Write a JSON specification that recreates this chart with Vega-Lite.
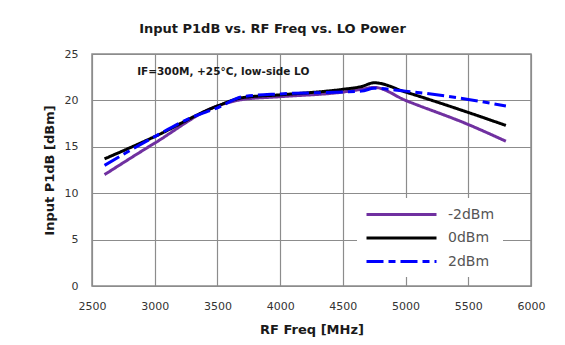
{
  "$schema": "https://vega.github.io/schema/vega-lite/v6.json",
  "width": 439,
  "height": 232,
  "autosize": {"type": "none"},
  "padding": {"left": 92, "top": 54, "right": 34, "bottom": 59},
  "background": "white",
  "title": {
    "text": "Input P1dB vs. RF Freq vs. LO Power",
    "font": "DejaVu Sans",
    "fontSize": 13,
    "fontWeight": "bold",
    "color": "#1a1a1a",
    "anchor": "middle",
    "dx": -39,
    "offset": 12
  },
  "config": {
    "view": {"stroke": "#8c8c8c", "strokeWidth": 1.5},
    "axis": {
      "grid": true,
      "gridColor": "#8c8c8c",
      "gridOpacity": 1,
      "gridWidth": 1.2,
      "domain": false,
      "ticks": false,
      "labelFlush": false,
      "labelFont": "DejaVu Sans",
      "labelFontSize": 11,
      "labelColor": "#333333",
      "titleFont": "DejaVu Sans",
      "titleFontSize": 13,
      "titleFontWeight": "bold",
      "titleColor": "#1a1a1a"
    },
    "legend": {
      "orient": "none",
      "legendX": 265,
      "legendY": 144,
      "title": null,
      "fillColor": "white",
      "padding": 8,
      "symbolType": "M-5,0H5",
      "symbolSize": 196,
      "symbolStrokeWidth": 3,
      "symbolOffset": 28,
      "labelFont": "DejaVu Sans",
      "labelFontSize": 14,
      "labelColor": "#555555",
      "labelOffset": 38,
      "rowPadding": 7.5
    }
  },
  "datasets": {
    "curves": [
      {"freq": 2600, "p1db": 12.0, "lo": "-2dBm"},
      {"freq": 3000, "p1db": 15.4, "lo": "-2dBm"},
      {"freq": 3500, "p1db": 19.4, "lo": "-2dBm"},
      {"freq": 3700, "p1db": 20.1, "lo": "-2dBm"},
      {"freq": 4000, "p1db": 20.4, "lo": "-2dBm"},
      {"freq": 4500, "p1db": 20.9, "lo": "-2dBm"},
      {"freq": 4650, "p1db": 21.2, "lo": "-2dBm"},
      {"freq": 4750, "p1db": 21.4, "lo": "-2dBm"},
      {"freq": 5000, "p1db": 20.0, "lo": "-2dBm"},
      {"freq": 5500, "p1db": 17.4, "lo": "-2dBm"},
      {"freq": 5800, "p1db": 15.6, "lo": "-2dBm"},
      {"freq": 2600, "p1db": 13.7, "lo": "0dBm"},
      {"freq": 3000, "p1db": 16.1, "lo": "0dBm"},
      {"freq": 3500, "p1db": 19.4, "lo": "0dBm"},
      {"freq": 3700, "p1db": 20.3, "lo": "0dBm"},
      {"freq": 4000, "p1db": 20.6, "lo": "0dBm"},
      {"freq": 4500, "p1db": 21.2, "lo": "0dBm"},
      {"freq": 4650, "p1db": 21.5, "lo": "0dBm"},
      {"freq": 4750, "p1db": 21.9, "lo": "0dBm"},
      {"freq": 5000, "p1db": 20.9, "lo": "0dBm"},
      {"freq": 5500, "p1db": 18.7, "lo": "0dBm"},
      {"freq": 5800, "p1db": 17.3, "lo": "0dBm"},
      {"freq": 2600, "p1db": 13.0, "lo": "2dBm"},
      {"freq": 3000, "p1db": 16.1, "lo": "2dBm"},
      {"freq": 3300, "p1db": 18.2, "lo": "2dBm"},
      {"freq": 3500, "p1db": 19.2, "lo": "2dBm"},
      {"freq": 3700, "p1db": 20.4, "lo": "2dBm"},
      {"freq": 4000, "p1db": 20.7, "lo": "2dBm"},
      {"freq": 4500, "p1db": 20.9, "lo": "2dBm"},
      {"freq": 4650, "p1db": 21.0, "lo": "2dBm"},
      {"freq": 4750, "p1db": 21.3, "lo": "2dBm"},
      {"freq": 5000, "p1db": 21.0, "lo": "2dBm"},
      {"freq": 5500, "p1db": 20.1, "lo": "2dBm"},
      {"freq": 5800, "p1db": 19.4, "lo": "2dBm"}
    ],
    "note": [
      {"freq": 2860, "p1db": 23.1, "label": "IF=300M, +25°C, low-side LO"}
    ]
  },
  "layer": [
    {
      "data": {"name": "curves"},
      "mark": {"type": "line", "interpolate": "monotone", "strokeWidth": 3},
      "encoding": {
        "x": {
          "field": "freq",
          "type": "quantitative",
          "scale": {"domain": [2500, 6000], "nice": false},
          "axis": {
            "values": [2500, 3000, 3500, 4000, 4500, 5000, 5500, 6000],
            "format": "d",
            "labelPadding": 14,
            "titlePadding": 12
          },
          "title": "RF Freq [MHz]"
        },
        "y": {
          "field": "p1db",
          "type": "quantitative",
          "scale": {"domain": [0, 25], "nice": false},
          "axis": {
            "values": [0, 5, 10, 15, 20, 25],
            "labelPadding": 14,
            "titlePadding": 8
          },
          "title": "Input P1dB [dBm]"
        },
        "color": {
          "field": "lo",
          "type": "nominal",
          "scale": {"domain": ["-2dBm", "0dBm", "2dBm"], "range": ["#7030A0", "#000000", "#0000FF"]},
          "legend": {}
        },
        "strokeDash": {
          "field": "lo",
          "type": "nominal",
          "scale": {"domain": ["-2dBm", "0dBm", "2dBm"], "range": [[1, 0], [1, 0], [17, 5, 7, 5]]},
          "legend": {}
        }
      }
    },
    {
      "data": {"name": "note"},
      "mark": {"type": "text", "align": "left", "baseline": "middle", "font": "DejaVu Sans", "fontSize": 10.5, "fontWeight": "bold", "color": "#1a1a1a"},
      "encoding": {
        "x": {"field": "freq", "type": "quantitative"},
        "y": {"field": "p1db", "type": "quantitative"},
        "text": {"field": "label"}
      }
    }
  ]
}
